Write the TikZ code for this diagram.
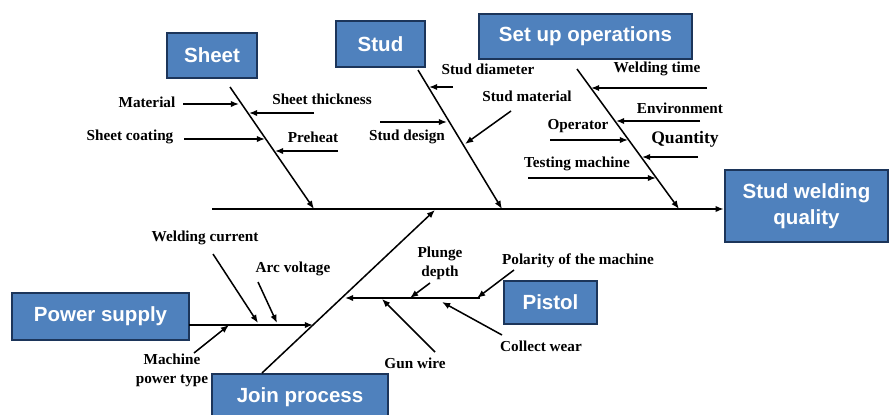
\documentclass[tikz,border=0pt]{standalone}
\usepackage{fontspec}
\usepackage{tikz}
\usetikzlibrary{arrows.meta}
\newfontfamily\boxfont{Liberation Sans}
\newfontfamily\labfont{Liberation Serif}
\definecolor{catfill}{HTML}{4F81BD}
\definecolor{catline}{HTML}{1C355A}
\tikzstyle{every edge} = [draw,-{Latex[length=7pt,width=5.5pt]},line width=1.3pt]
\tikzstyle{category} = [draw=catline,fill=catfill,line width=2.2pt,text=white,inner sep=0pt,align=center,
  font=\boxfont\bfseries\fontsize{17.5}{22}\selectfont]
\tikzstyle{cause} = [inner sep=0pt,align=center,font=\labfont\bfseries\fontsize{13}{16}\selectfont]

\begin{document}
\begin{tikzpicture}[x=0.03cm,y=-0.03cm]
\useasboundingbox (0,0) rectangle (891,414);

% categories
\node[category,minimum width=2.7cm,minimum height=1.35cm] (sheet) at (212,55.5) {Sheet};
\node[category,minimum width=2.67cm,minimum height=1.38cm] (stud) at (380.5,44) {Stud};
\node[category,minimum width=6.39cm,minimum height=1.35cm] (setup) at (585.5,36.5) {Set up operations};
\node[category,minimum width=4.89cm,minimum height=2.16cm] (quality) at (806.5,206) {Stud welding\\quality};
\node[category,minimum width=5.31cm,minimum height=1.41cm] (power) at (100.5,316.5) {Power supply};
\node[category,minimum width=5.28cm,minimum height=1.41cm] (join) at (300,397.5) {Join process};
\node[category,minimum width=2.79cm,minimum height=1.29cm] (pistol) at (550.5,302.5) {Pistol};

% spine and bones
\coordinate (tail) at (212,209);
\coordinate (sheetTop) at (230,87);
\coordinate (sheetEnd) at (314,209);
\coordinate (studTop) at (418,70);
\coordinate (studEnd) at (502,209);
\coordinate (setupTop) at (577,69);
\coordinate (setupEnd) at (679,209);
\coordinate (joinLow) at (262,373);
\coordinate (joinEnd) at (435,210);
\coordinate (powerTail) at (189,325);
\coordinate (powerEnd) at (313,325);
\coordinate (pistolTail) at (480,298);
\coordinate (pistolEnd) at (345,298);

\draw (tail) edge (tail -| quality.west);
\draw (sheetTop) edge (sheetEnd);
\draw (studTop) edge (studEnd);
\draw (setupTop) edge (setupEnd);
\draw (joinLow) edge (joinEnd);
\draw (powerTail) edge (powerEnd);
\draw (pistolTail) edge (pistolEnd);

% causes
\node[cause] (material) at (147,102) {Material};
\node[cause] (thickness) at (322,99) {Sheet thickness};
\node[cause] (coating) at (130,137) {Sheet coating};
\node[cause] (preheat) at (313,137) {Preheat};
\node[cause] (diameter) at (488,69) {Stud diameter};
\node[cause] (studmat) at (527,96) {Stud material};
\node[cause] (design) at (407,137) {Stud design};
\node[cause] (weldtime) at (657,69) {Welding time};
\node[cause] (environ) at (680,108) {Environment};
\node[cause] (operator) at (578,126) {Operator};
\node[cause,font=\labfont\bfseries\fontsize{15}{18}\selectfont] (quantity) at (685,139) {Quantity};
\node[cause] (testing) at (577,164) {Testing machine};
\node[cause] (current) at (205,238) {Welding current};
\node[cause] (voltage) at (293,269) {Arc voltage};
\node[cause] (powertype) at (172,370) {Machine\\power type};
\node[cause] (plunge) at (440,263) {Plunge\\depth};
\node[cause] (gunwire) at (415,363) {Gun wire};
\node[cause] (polarity) at (578,261) {Polarity of the machine};
\node[cause] (collect) at (541,346) {Collect wear};

\coordinate (material1) at (183,104);  \coordinate (material2) at (239,104);
\coordinate (thickness1) at (314,113); \coordinate (thickness2) at (249,113);
\coordinate (coating1) at (184,139);   \coordinate (coating2) at (265,139);
\coordinate (preheat1) at (338,151);   \coordinate (preheat2) at (275,151);
\coordinate (diameter1) at (453,87);   \coordinate (diameter2) at (429,87);
\coordinate (studmat1) at (511,111);   \coordinate (studmat2) at (465,144);
\coordinate (design1) at (380,122);    \coordinate (design2) at (447,122);
\coordinate (weldtime1) at (707,88);   \coordinate (weldtime2) at (591,88);
\coordinate (environ1) at (700,121);   \coordinate (environ2) at (616,121);
\coordinate (operator1) at (550,140);  \coordinate (operator2) at (628,140);
\coordinate (quantity1) at (698,157);  \coordinate (quantity2) at (642,157);
\coordinate (testing1) at (528,178);   \coordinate (testing2) at (656,178);
\coordinate (current1) at (213,254);   \coordinate (current2) at (258,323);
\coordinate (voltage1) at (258,282);   \coordinate (voltage2) at (277,323);
\coordinate (powertype1) at (194,353); \coordinate (powertype2) at (229,325);
\coordinate (plunge1) at (430,283);    \coordinate (plunge2) at (410,298);
\coordinate (gunwire1) at (435,352);   \coordinate (gunwire2) at (382,299);
\coordinate (polarity1) at (514,270);  \coordinate (polarity2) at (477,298);
\coordinate (collect1) at (502,335);   \coordinate (collect2) at (442,302);

\draw (material1) edge (material2);
\draw (thickness1) edge (thickness2);
\draw (coating1) edge (coating2);
\draw (preheat1) edge (preheat2);
\draw (diameter1) edge (diameter2);
\draw (studmat1) edge (studmat2);
\draw (design1) edge (design2);
\draw (weldtime1) edge[line width=2.4pt] (weldtime2);
\draw (environ1) edge (environ2);
\draw (operator1) edge (operator2);
\draw (quantity1) edge (quantity2);
\draw (testing1) edge (testing2);
\draw (current1) edge (current2);
\draw (voltage1) edge (voltage2);
\draw (powertype1) edge (powertype2);
\draw (plunge1) edge (plunge2);
\draw (gunwire1) edge (gunwire2);
\draw (polarity1) edge (polarity2);
\draw (collect1) edge (collect2);

\end{tikzpicture}
\end{document}
